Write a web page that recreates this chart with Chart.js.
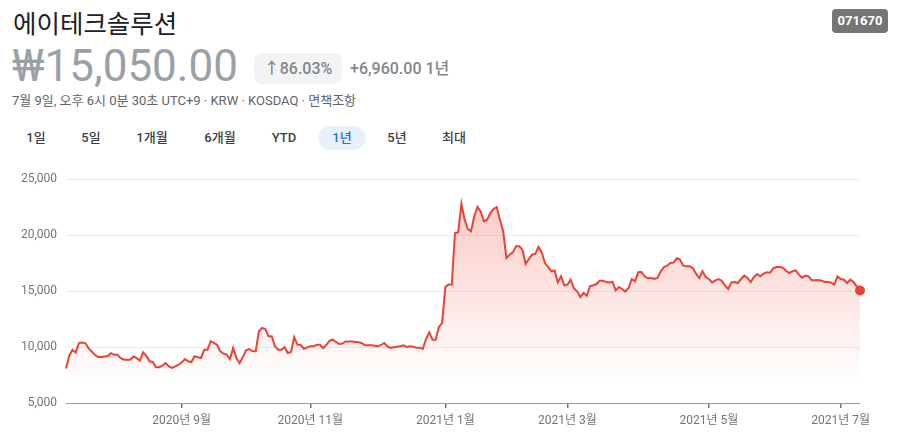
<!DOCTYPE html>
<html lang="ko">
<head>
<meta charset="utf-8">
<script src="https://cdn.jsdelivr.net/npm/chart.js@4"></script>
<style>
  html, body { margin: 0; padding: 0; background: #fff; }
  body { width: 897px; height: 444px; position: relative; overflow: hidden;
         font-family: Roboto, "Noto Sans CJK KR", "Noto Sans", sans-serif; }
  .abs { position: absolute; white-space: nowrap; }
  #name { left: 13px; top: 3px; font-size: 25.5px; color: #202124; font-family: "Noto Sans CJK KR", Roboto, sans-serif; }
  #price { left: 12px; top: 40px; font-size: 44px; color: #9aa0a6; }
  #chg { left: 254px; top: 53px; width: 88px; height: 31px; border-radius: 8px; background: #f1f3f4;
         color: #80868b; font-size: 16px; font-weight: 500; line-height: 31px; text-align: center; }
  #abs { left: 350px; top: 58px; font-size: 16px; color: #80868b; font-weight: 500; line-height: 22px; }
  #meta { left: 12px; top: 93px; font-size: 13px; color: #5f6368; line-height: 16px; }
  #ticker { left: 832px; top: 9px; width: 56px; height: 24px; border-radius: 4px; background: #757575;
            color: #fff; font-size: 13px; font-weight: 700; line-height: 24px; text-align: center; }
  .rng { top: 126px; height: 24px; line-height: 24px; font-size: 13px; font-weight: 500; color: #3c4043;
         text-align: center; transform: translateX(-50%); }
  .rng.on { background: #e8f0fe; color: #1a73e8; border-radius: 12px; width: 47px; }
  #wrap { position: absolute; left: 0; top: 160px; width: 897px; height: 273px; }
</style>
</head>
<body>
<div id="name" class="abs">에이테크솔루션</div>
<div id="price" class="abs">₩15,050.00</div>
<div id="chg" class="abs">↑86.03%</div>
<div id="abs" class="abs">+6,960.00 1년</div>
<div id="meta" class="abs">7월 9일, 오후 6시 0분 30초 UTC+9 · KRW · KOSDAQ · 면책조항</div>
<div id="ticker" class="abs">071670</div>
<div id="ranges"></div>
<div id="wrap"><canvas id="chart"></canvas></div>

<script>
// daily closes, one per trading day (2020-07-10 .. 2021-07-09)
const prices = [
  8090, 9200, 9750, 9500, 10350, 10400, 10350, 9900, 9600, 9300,
  9100, 9100, 9150, 9200, 9450, 9300, 9300, 9000, 8870, 8870,
  8870, 9150, 9000, 8780, 9520, 9200, 8720, 8660, 8190, 8190,
  8330, 8570, 8270, 8130, 8270, 8420, 8630, 8930, 8720, 8660,
  9170, 9080, 9020, 9760, 9760, 10500, 10360, 10200, 9610, 9400,
  9310, 8930, 9910, 9020, 8570, 9080, 9700, 9820, 9610, 9610,
  11400, 11700, 11600, 10950, 10950, 10060, 9760, 9760, 9970, 9460,
  9550, 10890, 10200, 10200, 9850, 9970, 10060, 10060, 10200, 10200,
  9910, 10200, 10560, 10650, 10450, 10270, 10300, 10500, 10480, 10480,
  10450, 10420, 10360, 10150, 10150, 10150, 10120, 10060, 10180, 10360,
  10060, 9910, 9970, 10030, 10060, 10150, 10000, 10060, 10030, 9940,
  9940, 9850, 10710, 11310, 10650, 10650, 11790, 12140, 15360, 15570,
  15570, 20180, 20240, 22800, 21370, 20540, 20330, 21670, 22500, 22110,
  21220, 21370, 21960, 22320, 22500, 21370, 20330, 17950, 18240, 18450,
  18990, 18990, 18690, 17410, 17860, 18240, 18330, 18930, 18450, 17500,
  17140, 16760, 16840, 15770, 16310, 15510, 15570, 16010, 15240, 14970,
  14460, 14820, 14580, 15420, 15510, 15620, 15920, 15920, 15800, 15770,
  15830, 15060, 15360, 15180, 14940, 15270, 16070, 15860, 16670, 16700,
  16310, 16130, 16160, 16070, 16160, 16760, 17140, 17260, 17500, 17530,
  17920, 17800, 17260, 17200, 17200, 17050, 16550, 16160, 16760, 16250,
  16070, 15770, 15950, 16070, 15920, 15480, 15180, 15770, 15800, 15710,
  16070, 16370, 16160, 15800, 16250, 16520, 16310, 16550, 16670, 16640,
  17020, 17140, 17140, 17080, 16810, 16610, 16760, 16840, 16460, 16190,
  16370, 16310, 15950, 15950, 15980, 15920, 15800, 15800, 15770, 15570,
  16310, 16070, 16010, 15710, 16010, 15800, 15420, 15050
];

// first trading day of each labelled month, as index into prices
const monthIdx = [36, 76, 118, 156, 200, 241];
const monthLabels = ['2020년 9월', '2020년 11월', '2021년 1월', '2021년 3월', '2021년 5월', '2021년 7월'];
const yTicks = [5000, 10000, 15000, 20000, 25000];

const ranges = ['1일', '5일', '1개월', '6개월', 'YTD', '1년', '5년', '최대'];
const rangeX = [36, 91, 152, 220, 284, 342, 397, 454];
const activeRange = '1년';

const rangeBox = document.getElementById('ranges');
ranges.forEach((r, i) => {
  const d = document.createElement('div');
  d.className = 'abs rng' + (r === activeRange ? ' on' : '');
  d.style.left = rangeX[i] + 'px';
  d.textContent = r;
  rangeBox.appendChild(d);
});

const RED = '#ea4335';
const last = prices.length - 1;

function fillGradient(context) {
  const chart = context.chart;
  const area = chart.chartArea;
  if (!area) return 'rgba(234,67,53,0.15)';
  const y = chart.scales.y;
  const g = chart.ctx.createLinearGradient(0, y.getPixelForValue(23000), 0, y.getPixelForValue(6600));
  g.addColorStop(0, 'rgba(234,67,53,0.28)');
  g.addColorStop(1, 'rgba(234,67,53,0)');
  return g;
}

new Chart(document.getElementById('chart'), {
  type: 'line',
  data: {
    datasets: [{
      data: prices.map((v, i) => ({ x: i, y: v })),
      borderColor: RED,
      borderWidth: 2,
      backgroundColor: fillGradient,
      fill: 'start',
      tension: 0,
      clip: false,
      pointRadius: ctx => ctx.dataIndex === last ? 5 : 0,
      pointBackgroundColor: RED,
      pointBorderWidth: 0
    }]
  },
  options: {
    responsive: true,
    maintainAspectRatio: false,
    animation: false,
    events: [],
    layout: { padding: { top: 19, right: 37, left: 0, bottom: 0 } },
    plugins: { legend: { display: false }, tooltip: { enabled: false } },
    scales: {
      x: {
        type: 'linear',
        min: 0,
        max: last,
        afterBuildTicks: axis => { axis.ticks = monthIdx.map(v => ({ value: v })); },
        afterFit: axis => { axis.height = 30; },
        ticks: {
          autoSkip: false,
          maxRotation: 0,
          padding: 6,
          color: '#70757a',
          font: { size: 12, family: 'Roboto, "Noto Sans CJK KR", sans-serif' },
          callback: v => monthLabels[monthIdx.indexOf(v)]
        },
        grid: { drawOnChartArea: false, drawTicks: true, tickLength: 5, color: '#70757a', lineWidth: 1.5 },
        border: { display: true, color: '#9aa0a6', width: 1 }
      },
      y: {
        min: yTicks[0],
        max: yTicks[yTicks.length - 1],
        afterBuildTicks: axis => { axis.ticks = yTicks.map(v => ({ value: v })); },
        afterFit: axis => { axis.width = 66; },
        ticks: {
          padding: 9,
          color: '#70757a',
          font: { size: 12, family: 'Roboto, "Noto Sans CJK KR", sans-serif' },
          callback: v => v.toLocaleString('en-US')
        },
        grid: { drawTicks: false, color: '#ececec' },
        border: { display: false }
      }
    }
  }
});
</script>
</body>
</html>
